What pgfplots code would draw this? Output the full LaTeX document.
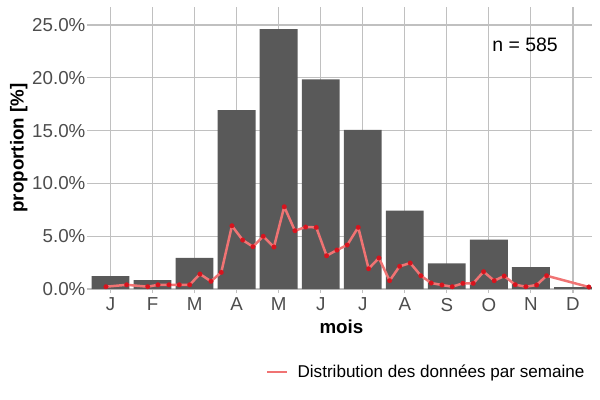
\documentclass[border=0pt]{standalone}
\usepackage{pgfplots}
\pgfplotsset{compat=1.18}
\usepackage{fontspec}
\setmainfont{Liberation Sans}
\definecolor{barcol}{RGB}{89,89,89}
\definecolor{gridcol}{RGB}{192,192,192}
\definecolor{tickcol}{RGB}{77,77,77}
\definecolor{linecol}{RGB}{240,115,115}
\definecolor{ptcol}{RGB}{215,20,30}
\begin{document}
\begin{tikzpicture}
\path[use as bounding box] (-65.5bp,-79.9bp) rectangle (366.5bp,208.1bp);
\begin{axis}[
  at={(0,0)}, anchor=south west,
  scale only axis, width=360.7bp, height=203bp,
  xmin=0.536, xmax=12.452, ymin=0, ymax=26.7,
  xtick={1,...,12},
  xticklabels={J,F,M,A,M,J,J,A,S,O,N,D},
  ytick={0,5,10,15,20,25},
  yticklabel={\pgfmathprintnumber[fixed,fixed zerofill,precision=1]{\tick}\%},
  /pgf/number format/assume math mode=true,
  grid=major,
  major grid style={gridcol, line width=0.8bp},
  axis line style={draw=none},
  tick pos=left, tick align=outside,
  major tick length=3bp,
  major tick style={gridcol, line width=0.8bp},
  tick label style={font=\fontsize{13.5bp}{15bp}\selectfont, text=tickcol},
  xticklabel style={yshift=0bp},
  yticklabel style={xshift=2.5bp},
  xlabel={\textbf{mois}},
  ylabel={\textbf{proportion [\%]}},
  label style={font=\fontsize{13.5bp}{15bp}\selectfont},
  xlabel style={at={(axis description cs:0.5,-0.135)}, anchor=center},
  ylabel style={at={(axis description cs:-0.144,0.5)}, anchor=center},
  legend style={at={(axis description cs:0.991,-0.294)}, anchor=east, draw=none,
     font=\fontsize{12.3bp}{14bp}\selectfont, inner sep=0pt},
  legend cell align=left,
  clip=false,
]
\addplot[ybar, bar width=0.9, fill=barcol, draw=none, forget plot] coordinates {
(1,1.23) (2,0.85) (3,2.94) (4,16.95) (5,24.62) (6,19.86) (7,15.06) (8,7.42) (9,2.43) (10,4.67) (11,2.08) (12,0.18)
};
\addplot[color=linecol, line width=1.8bp, line join=round, mark=*, mark size=1.7bp,
  mark options={fill=ptcol, draw=ptcol, line width=0.1bp},
  legend image code/.code={\draw[linecol, line width=1.8bp] (0bp,0bp) -- (14bp,0bp); \path (19bp,0bp);}]
coordinates {
(0.893,0.22) (1.385,0.40) (1.885,0.22) (2.130,0.40) (2.391,0.40) (2.636,0.40) (2.883,0.40)
(3.128,1.42) (3.390,0.73) (3.635,1.58) (3.889,5.99) (4.144,4.64) (4.389,4.01) (4.634,4.99)
(4.888,3.98) (5.133,7.79) (5.388,5.52) (5.642,5.87) (5.894,5.84) (6.141,3.15) (6.386,3.69)
(6.631,4.17) (6.893,5.84) (7.140,1.92) (7.385,2.94) (7.640,0.79) (7.877,2.15) (8.130,2.46)
(8.384,1.26) (8.629,0.57) (8.883,0.38) (9.128,0.22) (9.383,0.54) (9.628,0.54) (9.875,1.64)
(10.127,0.79) (10.365,1.23) (10.627,0.41) (10.881,0.22) (11.136,0.38) (11.373,1.26) (12.379,0.19)
};
\addlegendentry{Distribution des données par semaine}
\node[font=\fontsize{14bp}{16bp}\selectfont, anchor=center] at (axis cs:10.86,23.1) {n = 585};
\end{axis}
\end{tikzpicture}
\end{document}
